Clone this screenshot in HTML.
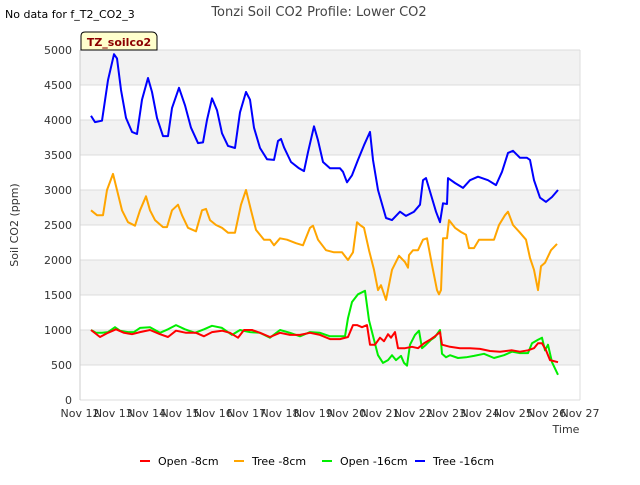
<!DOCTYPE html>
<html><head><meta charset="utf-8"><style>
body{margin:0;background:#fff;font-family:"Liberation Sans","DejaVu Sans",sans-serif}
svg text{font-family:"DejaVu Sans","Liberation Sans",sans-serif}
</style></head><body>
<svg id="c" width="640" height="480" xmlns="http://www.w3.org/2000/svg">
<rect width="640" height="480" fill="#fff"/>
<text x="5" y="18" font-size="11" fill="#000">No data for f_T2_CO2_3</text>
<text x="319" y="16" font-size="13" fill="#444" text-anchor="middle">Tonzi Soil CO2 Profile: Lower CO2</text>
<g id="plot"></g>
<text x="18" y="225" font-size="11" fill="#333" text-anchor="middle" transform="rotate(-90 18 225)">Soil CO2 (ppm)</text>
<text x="566" y="433" font-size="11" fill="#333" text-anchor="middle">Time</text>
<g>
<path d="M81,50 L81,36 Q81,32 85,32 L152,32 Q156,32 157,36 L157,50 Z" fill="#ffffcc" stroke="#000" stroke-width="1"/>
<text x="119" y="46" font-size="11" font-weight="bold" fill="#8b0000" text-anchor="middle">TZ_soilco2</text>
</g>
<g id="legend"></g>
</svg>
<script>
const yTicks=[0,500,1000,1500,2000,2500,3000,3500,4000,4500,5000];
const xTickLabels=["Nov 12","Nov 13","Nov 14","Nov 15","Nov 16","Nov 17","Nov 18","Nov 19","Nov 20","Nov 21","Nov 22","Nov 23","Nov 24","Nov 25","Nov 26","Nov 27"];
const seriesNames=["Open -8cm","Tree -8cm","Open -16cm","Tree -16cm"];
const seriesColors=["#ff0000","#ffa500","#00ee00","#0000ff"];
const tree16Days=[0.33,0.45,0.66,0.84,1.02,1.11,1.23,1.38,1.56,1.71,1.86,2.04,2.16,2.31,2.49,2.64,2.76,2.97,3.15,3.33,3.54,3.69,3.81,3.96,4.11,4.26,4.44,4.65,4.80,4.98,5.10,5.22,5.40,5.61,5.82,5.94,6.03,6.12,6.33,6.57,6.72,6.84,7.02,7.14,7.29,7.50,7.80,7.89,8.01,8.16,8.34,8.52,8.70,8.79,8.94,9.06,9.18,9.36,9.60,9.78,10.02,10.20,10.29,10.38,10.53,10.68,10.80,10.89,11.01,11.04,11.25,11.49,11.70,11.94,12.24,12.48,12.66,12.84,12.99,13.20,13.41,13.50,13.62,13.80,13.98,14.16,14.34];
const tree16Vals=[4060,3970,3990,4570,4940,4880,4430,4030,3830,3800,4290,4600,4400,4030,3770,3770,4170,4460,4210,3890,3670,3680,4000,4310,4140,3810,3630,3600,4110,4400,4290,3890,3600,3440,3430,3700,3730,3610,3400,3310,3270,3540,3910,3710,3400,3310,3310,3260,3110,3210,3430,3640,3830,3430,3000,2800,2600,2570,2690,2630,2690,2790,3140,3170,2930,2690,2540,2810,2800,3170,3100,3030,3140,3190,3140,3070,3260,3530,3560,3460,3460,3430,3140,2890,2830,2900,3000];
const tree8Days=[0.33,0.51,0.69,0.81,0.99,1.11,1.26,1.44,1.65,1.80,1.98,2.10,2.25,2.49,2.61,2.76,2.94,3.06,3.24,3.48,3.66,3.78,3.90,4.08,4.26,4.44,4.65,4.83,4.98,5.13,5.28,5.52,5.70,5.82,6.00,6.21,6.48,6.69,6.90,6.99,7.14,7.38,7.62,7.86,8.04,8.19,8.31,8.40,8.52,8.67,8.82,8.94,9.03,9.18,9.36,9.57,9.75,9.84,9.87,9.99,10.14,10.29,10.41,10.56,10.71,10.77,10.83,10.89,11.01,11.07,11.25,11.43,11.58,11.67,11.82,11.97,12.18,12.42,12.57,12.75,12.84,12.99,13.20,13.38,13.50,13.62,13.74,13.83,13.95,14.13,14.31];
const tree8Vals=[2710,2640,2640,3000,3230,3000,2710,2540,2490,2710,2910,2710,2570,2470,2470,2710,2790,2640,2460,2410,2710,2730,2570,2500,2460,2390,2390,2790,3000,2710,2430,2290,2290,2210,2310,2290,2240,2210,2460,2490,2290,2140,2110,2110,2000,2110,2540,2500,2460,2140,1860,1570,1640,1430,1860,2060,1970,1890,2070,2140,2140,2290,2310,1930,1570,1510,1570,2310,2310,2570,2460,2400,2360,2170,2170,2290,2290,2290,2500,2640,2690,2500,2390,2290,2030,1860,1570,1910,1960,2140,2230];
const open16Days=[0.33,0.48,0.66,0.84,1.05,1.20,1.44,1.62,1.80,2.10,2.40,2.64,2.88,3.15,3.45,3.72,3.96,4.26,4.56,4.80,5.10,5.40,5.70,6.00,6.30,6.60,6.90,7.20,7.50,7.74,7.95,8.04,8.16,8.34,8.55,8.67,8.82,8.94,9.09,9.24,9.36,9.48,9.63,9.72,9.81,9.90,10.05,10.17,10.26,10.38,10.53,10.65,10.80,10.86,10.98,11.10,11.34,11.58,11.82,12.12,12.42,12.72,12.96,13.20,13.44,13.56,13.74,13.86,13.95,14.04,14.16,14.34];
const open16Vals=[1000,960,960,970,1040,990,970,970,1030,1040,960,1010,1070,1010,960,1010,1060,1030,930,1000,970,960,890,1000,960,910,970,960,910,910,910,1170,1400,1510,1560,1140,860,640,530,570,640,570,630,530,490,790,930,990,740,790,860,900,1000,660,610,640,600,610,630,660,600,640,690,670,670,810,860,890,710,790,540,360];
const open8Days=[0.33,0.60,0.84,1.08,1.32,1.56,1.80,2.10,2.40,2.64,2.88,3.18,3.48,3.72,3.96,4.26,4.50,4.74,4.92,5.16,5.40,5.70,6.00,6.30,6.60,6.90,7.20,7.50,7.80,8.04,8.19,8.31,8.46,8.61,8.70,8.85,9.00,9.12,9.24,9.33,9.45,9.54,9.75,9.96,10.14,10.32,10.50,10.62,10.80,10.86,11.10,11.40,11.70,12.00,12.30,12.60,12.96,13.20,13.44,13.62,13.74,13.86,13.98,14.10,14.34];
const open8Vals=[1000,900,960,1010,960,940,970,1000,940,900,990,960,960,910,970,990,960,890,1000,1000,960,900,960,930,930,960,930,870,870,900,1070,1070,1040,1070,790,790,890,840,940,890,970,740,740,760,740,810,860,900,970,790,760,740,740,730,700,690,710,690,710,740,810,810,710,570,540];

const X0=80,X1=580,Y0=400,Y1=50;
const xs=d=>X0+d*(X1-X0)/15;
const ys=v=>Y0-v*(Y0-Y1)/5000;
const NS="http://www.w3.org/2000/svg";
const plot=document.getElementById('plot');
function mk(tag,attrs,parent){const e=document.createElementNS(NS,tag);for(const k in attrs)e.setAttribute(k,attrs[k]);(parent||plot).appendChild(e);return e;}
// bands
for(let i=0;i<yTicks.length-1;i++){
  if(i%2===1){const r=mk('rect',{x:X0,y:ys(yTicks[i+1]),width:X1-X0,height:ys(yTicks[i])-ys(yTicks[i+1]),fill:'#f2f2f2'});
  
  }
}
yTicks.forEach(v=>{
  const l=mk('line',{x1:X0,x2:X1,y1:ys(v),y2:ys(v),stroke:'#dcdcdc','stroke-width':1});
  
  
  const t=mk('text',{x:X0-8,y:ys(v)+4,'font-size':11,fill:'#333','text-anchor':'end'});
  t.textContent=v;
  
  
});
const ax=mk('line',{x1:X0,x2:X0,y1:Y1,y2:Y0,stroke:'#ccc'});


const rx=mk('line',{x1:X1,x2:X1,y1:Y1,y2:Y0,stroke:'#ddd'});


xTickLabels.forEach((s,i)=>{
  const t=mk('text',{x:xs(i),y:Y0+17,'font-size':11,fill:'#333','text-anchor':'middle'});
  t.textContent=s;
  
  
});
const series=[[open8Days,open8Vals],[tree8Days,tree8Vals],[open16Days,open16Vals],[tree16Days,tree16Vals]];
const order=[3,1,2,0];
order.forEach(i=>{
  const [d,v]=series[i];
  const pts=d.map((x,j)=>xs(x).toFixed(1)+','+ys(v[j]).toFixed(1)).join(' ');
  const p=mk('polyline',{points:pts,fill:'none',stroke:seriesColors[i],'stroke-width':2,'stroke-linejoin':'round'});
  
  
});
const leg=document.getElementById('legend');
const lx=[140,234,322,415];
seriesNames.forEach((n,i)=>{
  const g=mk('g',{},leg);
  
  
  mk('line',{x1:lx[i],x2:lx[i]+10,y1:461,y2:461,stroke:seriesColors[i],'stroke-width':2},g);
  const t=mk('text',{x:lx[i]+18,y:465,'font-size':11,fill:'#000'},g);
  t.textContent=n;
});
</script>
</body></html>
